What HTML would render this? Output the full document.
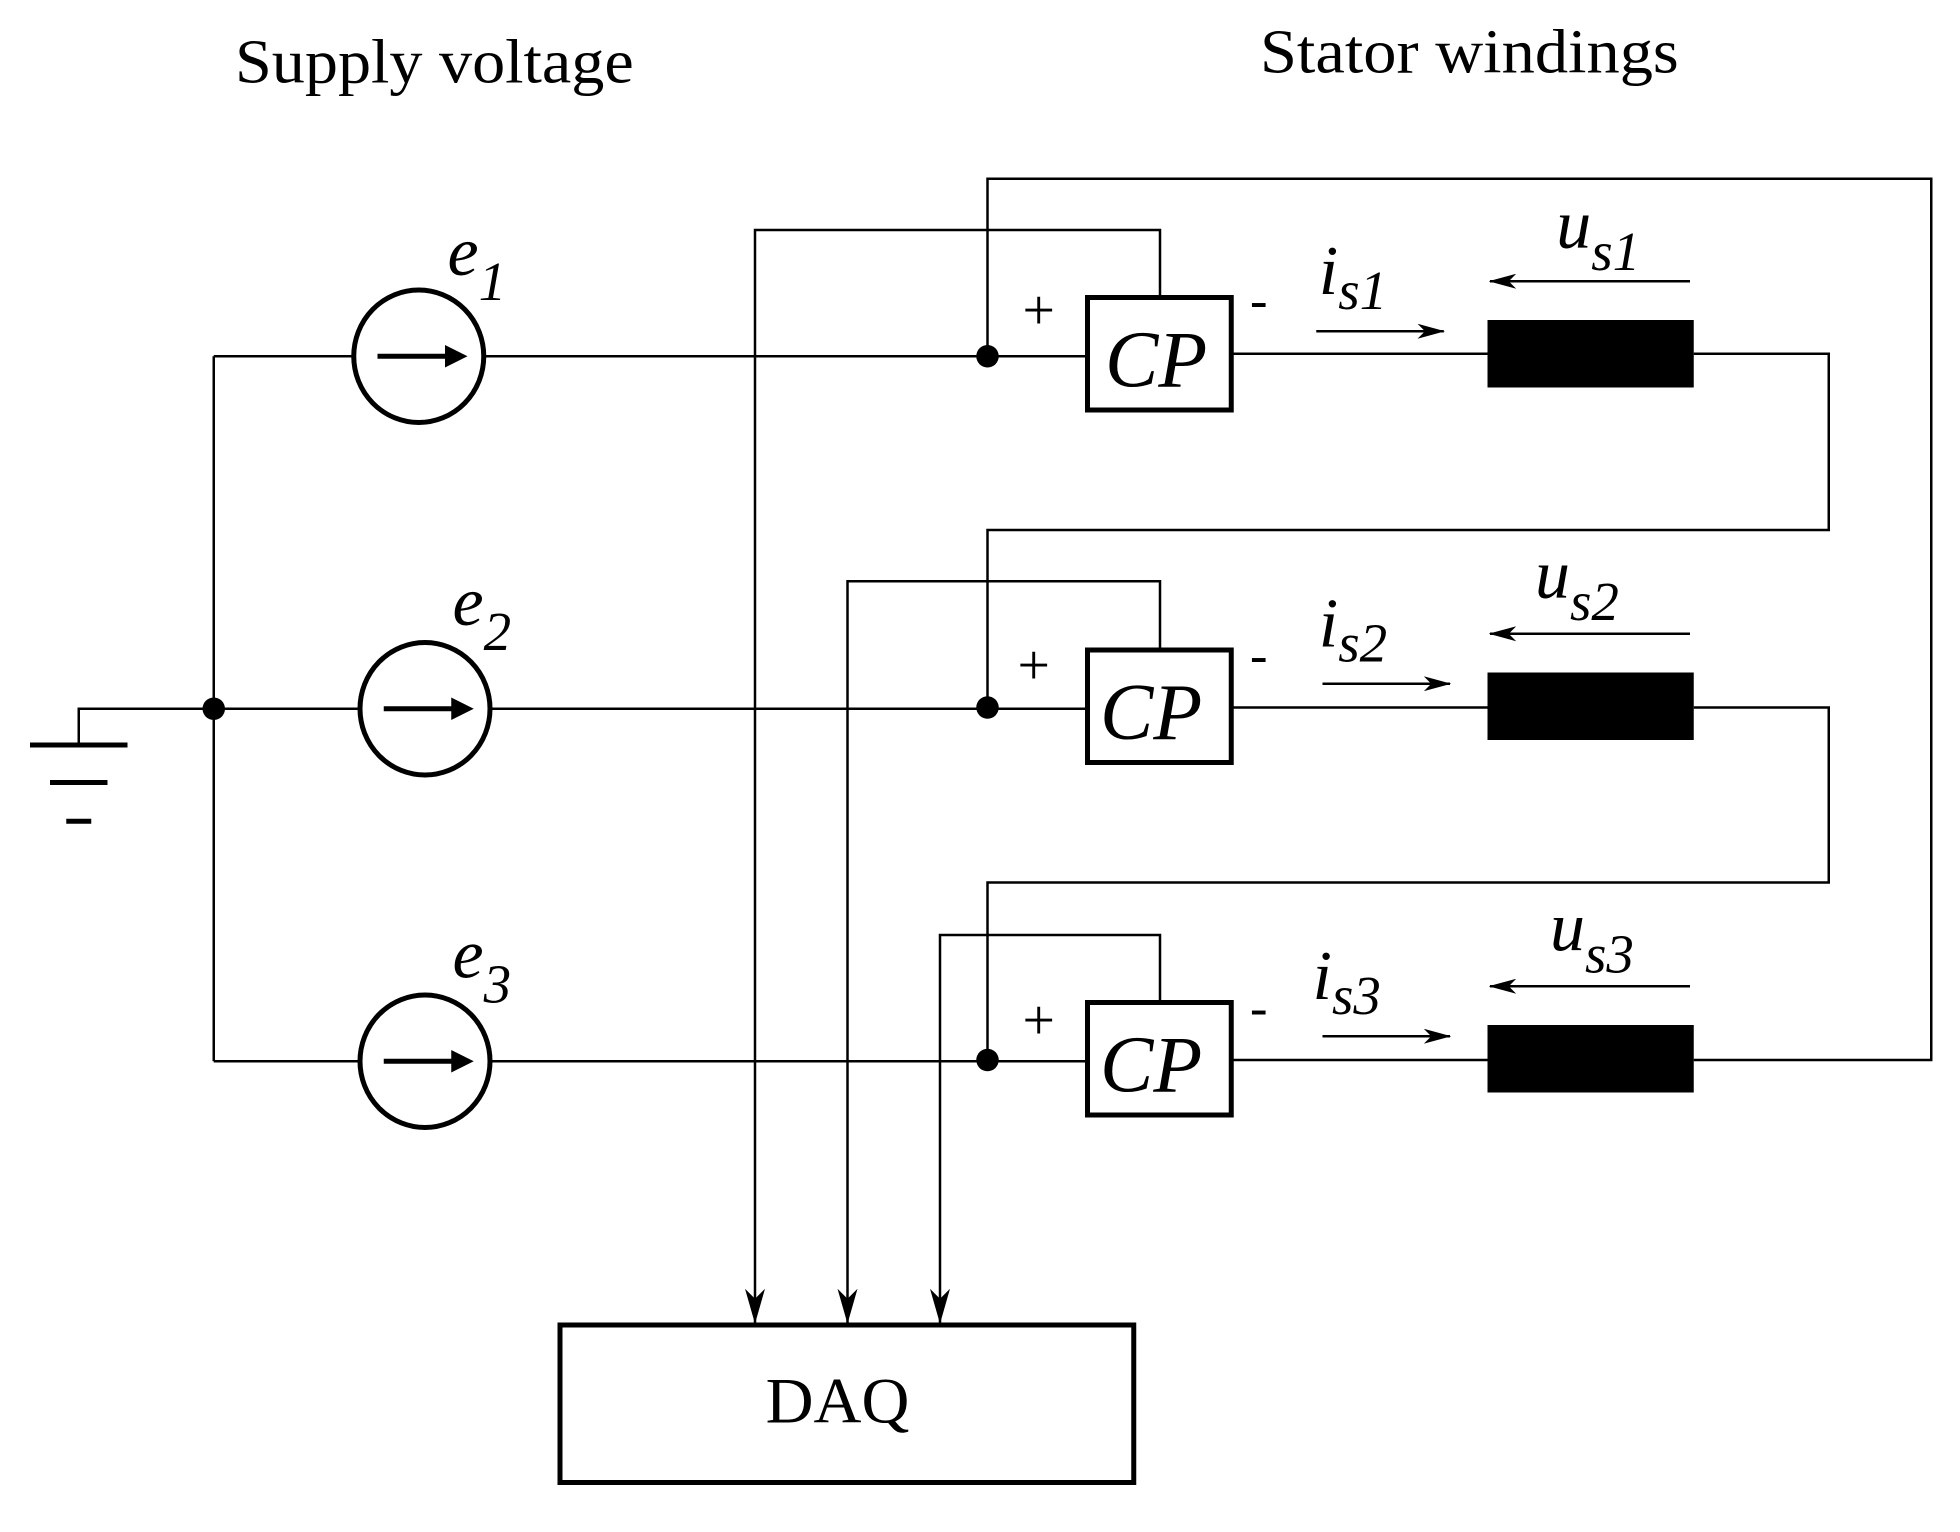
<!DOCTYPE html>
<html><head><style>html,body{margin:0;padding:0;background:#fff}svg{display:block}</style></head>
<body>
<svg width="1960" height="1532" viewBox="0 0 1568 1225.6" preserveAspectRatio="none" xmlns="http://www.w3.org/2000/svg">
<defs>
<marker id="a" markerWidth="22" markerHeight="12" refX="21" refY="6" orient="auto" markerUnits="userSpaceOnUse"><path d="M0,0 L22,6 L0,12 L6,6 Z" fill="#000"/></marker>
<marker id="d" markerWidth="16" markerHeight="28" refX="8" refY="27" orient="0" markerUnits="userSpaceOnUse"><path d="M0,0 L8,28 L16,0 L8,8 Z" fill="#000"/></marker>
</defs>
<g font-family="Liberation Serif, serif" fill="#000">
<text x="188" y="66" font-size="50" textLength="319" lengthAdjust="spacingAndGlyphs">Supply voltage</text>
<text x="1008" y="58" font-size="50" textLength="335" lengthAdjust="spacingAndGlyphs">Stator windings</text>
</g>
<g stroke="#000" stroke-width="2" fill="none">
<polyline points="790,285 790,143 1545,143 1545,848 1355,848"/>
<polyline points="171,285 171,849"/>
<line x1="171" y1="285" x2="283" y2="285"/>
<line x1="171" y1="567" x2="288" y2="567"/>
<line x1="171" y1="849" x2="288" y2="849"/>
<polyline points="171,567 63,567 63,596"/>
<line x1="387" y1="285" x2="870" y2="285"/>
<line x1="392" y1="567" x2="870" y2="567"/>
<line x1="392" y1="849" x2="870" y2="849"/>
<line x1="985" y1="283" x2="1190" y2="283"/>
<line x1="985" y1="566" x2="1190" y2="566"/>
<line x1="985" y1="848" x2="1190" y2="848"/>
<polyline points="1355,283 1463,283 1463,424 790,424 790,566"/>
<polyline points="1355,566 1463,566 1463,706 790,706 790,848"/>
<polyline points="928,238 928,184 604,184 604,1058" marker-end="url(#d)"/>
<polyline points="928,520 928,465 678,465 678,1058" marker-end="url(#d)"/>
<polyline points="928,802 928,748 752,748 752,1058" marker-end="url(#d)"/>
<line x1="1053" y1="265" x2="1155" y2="265" marker-end="url(#a)"/>
<line x1="1058" y1="547" x2="1160" y2="547" marker-end="url(#a)"/>
<line x1="1058" y1="829" x2="1160" y2="829" marker-end="url(#a)"/>
<line x1="1352" y1="225" x2="1192" y2="225" marker-end="url(#a)"/>
<line x1="1352" y1="507" x2="1192" y2="507" marker-end="url(#a)"/>
<line x1="1352" y1="789" x2="1192" y2="789" marker-end="url(#a)"/>
</g>
<g stroke="#000" stroke-width="4" fill="none">
<line x1="24" y1="596" x2="102" y2="596"/>
<line x1="40" y1="626" x2="86" y2="626"/>
<line x1="53" y1="657" x2="73" y2="657"/>
<ellipse cx="335" cy="285" rx="52" ry="53"/>
<ellipse cx="340" cy="567" rx="52" ry="53"/>
<ellipse cx="340" cy="849" rx="52" ry="53"/>
<rect x="870" y="238" width="115" height="90" fill="#fff"/>
<rect x="870" y="520" width="115" height="90" fill="#fff"/>
<rect x="870" y="802" width="115" height="90" fill="#fff"/>
<rect x="448" y="1060" width="459" height="126"/>
<line x1="302" y1="285" x2="360" y2="285"/>
<line x1="307" y1="567" x2="365" y2="567"/>
<line x1="307" y1="849" x2="365" y2="849"/>
</g>
<g fill="#000">
<path d="M356,276 L374,285 L356,294 Z"/>
<path d="M361,558 L379,567 L361,576 Z"/>
<path d="M361,840 L379,849 L361,858 Z"/>
<circle cx="171" cy="567" r="9"/>
<circle cx="790" cy="285" r="9"/>
<circle cx="790" cy="566" r="9"/>
<circle cx="790" cy="848" r="9"/>
<rect x="1190" y="256" width="165" height="54"/>
<rect x="1190" y="538" width="165" height="54"/>
<rect x="1190" y="820" width="165" height="54"/>
</g>
<g font-family="Liberation Serif, serif" fill="#000" font-style="italic">
<text x="884" y="309" font-size="64">CP</text>
<text x="880" y="591" font-size="64">CP</text>
<text x="880" y="873" font-size="64">CP</text>
<text x="358" y="220" font-size="56">e<tspan font-size="44" dy="20">1</tspan></text>
<text x="362" y="500" font-size="56">e<tspan font-size="44" dy="20">2</tspan></text>
<text x="362" y="782" font-size="56">e<tspan font-size="44" dy="20">3</tspan></text>
<text x="1055" y="235" font-size="56">i<tspan font-size="44" dy="12">s1</tspan></text>
<text x="1055" y="517" font-size="56">i<tspan font-size="44" dy="12">s2</tspan></text>
<text x="1050" y="799" font-size="56">i<tspan font-size="44" dy="12">s3</tspan></text>
<text x="1245" y="198" font-size="56">u<tspan font-size="44" dy="18">s1</tspan></text>
<text x="1228" y="478" font-size="56">u<tspan font-size="44" dy="18">s2</tspan></text>
<text x="1240" y="760" font-size="56">u<tspan font-size="44" dy="18">s3</tspan></text>
</g>
<g font-family="Liberation Serif, serif" fill="#000">
<text x="818" y="263" font-size="46">+</text>
<text x="814" y="547" font-size="46">+</text>
<text x="818" y="831" font-size="46">+</text>
<text x="1000" y="254" font-size="42">-</text>
<text x="1000" y="538" font-size="42">-</text>
<text x="1000" y="820" font-size="42">-</text>
<text x="670" y="1138" font-size="52" text-anchor="middle" textLength="115" lengthAdjust="spacingAndGlyphs">DAQ</text>
</g>
</svg>
</body></html>
